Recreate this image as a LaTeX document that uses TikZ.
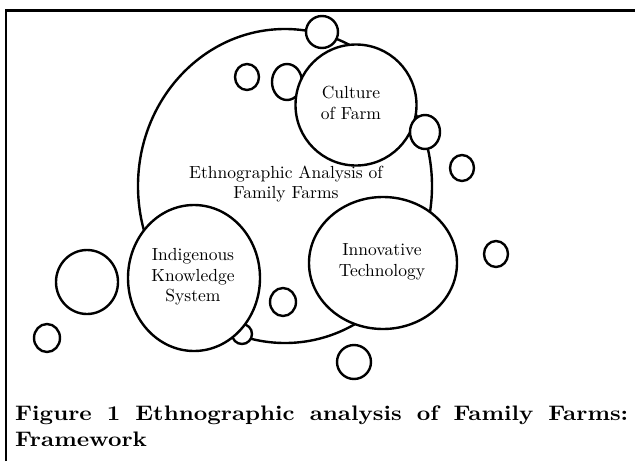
\documentclass[tikz,border=0pt]{standalone}
\usepackage{fontspec}
\usetikzlibrary{shapes.geometric}
% Latin Modern at its 10pt design size for the bubble labels,
% and a slightly widened cut of it for the caption
\newfontfamily\labelrm{lmroman10}[Extension=.otf, UprightFont=*-regular,
  BoldFont=*-bold]
\newfontfamily\widerm{lmroman10}[Extension=.otf, UprightFont=*-regular,
  BoldFont=*-bold, FakeStretch=1.12]
\begin{document}
\begin{tikzpicture}[x=1pt,y=-1pt,
  bub/.style={draw, ellipse, line width=2.4pt, fill=white, inner sep=0pt},
  lbl/.style={align=center, inner sep=0pt, font=\labelrm\fontsize{17.5}{20.5}\selectfont},
  frameline/.style={line width=2.5pt}]
\useasboundingbox (0,0) rectangle (635,461);

% open frame: left and top rules
\coordinate (fb) at (6,461);
\coordinate (fc) at (6,10.5);
\coordinate (fr) at (635,10.5);
\draw[frameline] (fb) -- (fc) -- (fr);

% main bubble
\node[bub, minimum width=294pt, minimum height=314pt] (main) at (285,186) {};

% bubbles partly hidden behind the larger ones
\node[bub, minimum width=20pt, minimum height=20pt] (s1) at (242,334) {};
\node[bub, minimum width=30pt, minimum height=36pt] (s2) at (287,82) {};

% culture bubble and its neighbours
\node[bub, minimum width=121pt, minimum height=121pt] (cult) at (356,105) {};
\node[bub, minimum width=32pt, minimum height=32pt] (s3) at (322,32) {};
\node[bub, minimum width=30pt, minimum height=34pt] (s4) at (425,132) {};

% lower bubbles
\node[bub, minimum width=132pt, minimum height=146pt] (indig) at (194,278) {};
\node[bub, minimum width=148pt, minimum height=132pt] (innov) at (383,263) {};

% free-floating small bubbles
\node[bub, minimum width=24pt, minimum height=26pt] (s5) at (247,77) {};
\node[bub, minimum width=62pt, minimum height=64pt] (s6) at (87,282) {};
\node[bub, minimum width=26pt, minimum height=28pt] (s7) at (47,338) {};
\node[bub, minimum width=26pt, minimum height=28pt] (s8) at (283,302) {};
\node[bub, minimum width=24pt, minimum height=26pt] (s9) at (462,168) {};
\node[bub, minimum width=24pt, minimum height=26pt] (s10) at (496,254) {};
\node[bub, minimum width=34pt, minimum height=34pt] (s11) at (354,362) {};

% labels
\node[lbl] (mainT) at (286,184) {Ethnographic Analysis of\\Family Farms};
\node[lbl] (cultT) at (351,103) {Culture\\of Farm};
\node[lbl] (indigT) at (193,277) {Indigenous\\Knowledge\\System};
\node[lbl] (innovT) at (382,262) {Innovative\\Technology};

% caption
\node[anchor=north west, text width=613pt, inner sep=0pt, align=justify,
      font=\widerm\bfseries\fontsize{21}{26}\selectfont] (cap) at (15,406)
  {Figure 1 Ethnographic analysis of Family Farms:\linebreak Framework};
\end{tikzpicture}
\end{document}
